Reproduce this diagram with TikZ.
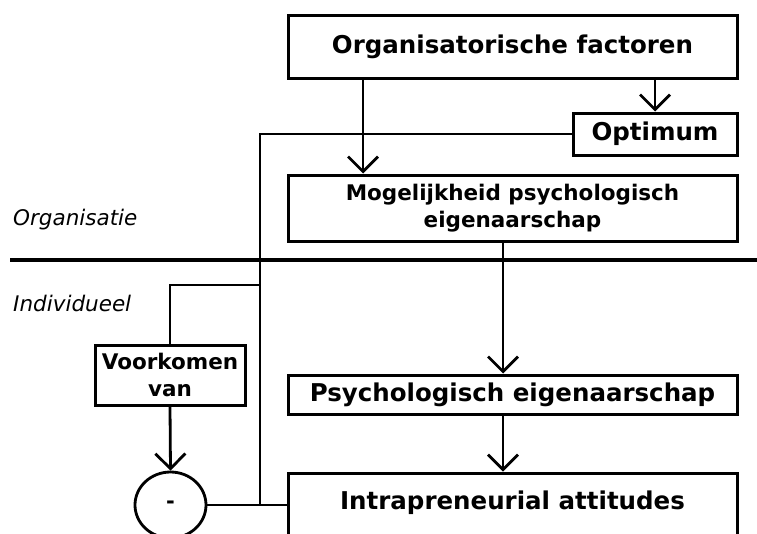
\documentclass[tikz,border=0pt]{standalone}
\usepackage{fontspec}
\setmainfont{DejaVu Sans}
\usetikzlibrary{arrows.meta,shapes.geometric}
\begin{document}
\begin{tikzpicture}[x=1pt,y=-1pt,
  bigfont/.style={font=\bfseries\fontsize{24.5}{28}\selectfont},
  box/.style={draw,line width=3pt,rectangle,inner sep=0pt,align=center,bigfont},
  smallbox/.style={box,font=\bfseries\fontsize{21.5}{27.5}\selectfont},
  conn/.style={line width=2.8pt},
  arr/.style={conn,-{Straight Barb[length=15pt,width=30pt,line width=2.8pt]}},
  lbl/.style={anchor=west,inner sep=0pt,font=\itshape\fontsize{21.5}{24}\selectfont}]
\clip (0,0) rectangle (757,533);
\fill[white] (0,0) rectangle (757,533);
% boxes
\node[box,minimum width=449pt,minimum height=63pt] (orgf) at (512.5,46.5) {Organisatorische factoren};
\node[box,minimum width=164pt,minimum height=42pt] (opt) at (655,134) {Optimum};
\node[smallbox,minimum width=449pt,minimum height=66pt] (mog) at (512.5,208) {Mogelijkheid psychologisch\\eigenaarschap};
\node[box,minimum width=449pt,minimum height=39pt] (psy) at (512.5,394.5) {Psychologisch eigenaarschap};
\node[box,minimum width=449pt,minimum height=68pt,
  label={[bigfont,yshift=4pt]center:Intrapreneurial attitudes}] (intr) at (512.5,507) {};
\node[smallbox,minimum width=150pt,minimum height=60pt] (voork) at (170,375) {Voorkomen\\van};
\node[draw,ellipse,line width=2.8pt,minimum width=71pt,minimum height=66pt,inner sep=0pt,font=\bfseries\fontsize{21}{24}\selectfont] (circ) at (170.5,505) {-};
% labels
\node[lbl] (lorg) at (13,220) {Organisatie};
\node[lbl] (lind) at (13,303) {Individueel};
% separator
\coordinate (sepL) at (10,260);
\coordinate (sepR) at (757,260);
\draw[line width=3.6pt] (sepL) -- (sepR);
% helper coordinates
\coordinate (xa) at (363,0);
\coordinate (xb) at (503,0);
\coordinate (j1) at (260,505);
\coordinate (j2) at (260,285);
% connectors
\draw[arr] (orgf.south -| xa) -- (mog.north -| xa);
\draw[arr] (orgf.south -| opt.north) -- (opt.north);
\draw[conn] (opt.west) -| (j1);
\draw[conn] (j2) -| (voork.north);
\draw[arr] (voork.south) -- (circ.north);
\draw[conn] (circ.east) -- (intr.west |- circ.east);
\draw[arr] (mog.south -| xb) -- (psy.north -| xb);
\draw[arr] (psy.south -| xb) -- (intr.north -| xb);
\end{tikzpicture}
\end{document}
